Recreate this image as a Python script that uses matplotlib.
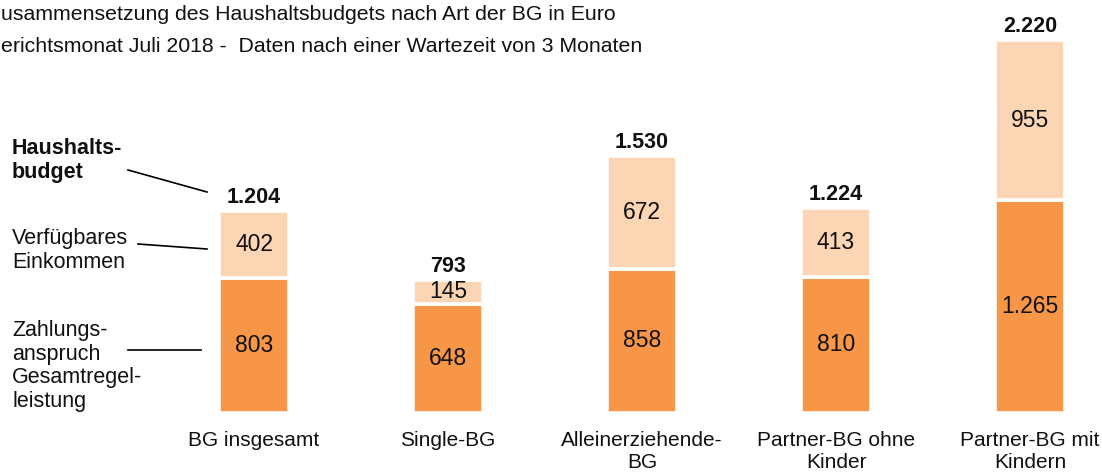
import matplotlib
matplotlib.use("Agg")
import matplotlib.pyplot as plt

plt.rcParams['font.family'] = ['Liberation Sans', 'DejaVu Sans']

categories = ["BG insgesamt", "Single-BG", "Alleinerziehende-\nBG",
              "Partner-BG ohne\nKinder", "Partner-BG mit\nKindern"]
zahlungsanspruch = [803, 648, 858, 810, 1265]
verfuegbar = [402, 145, 672, 413, 955]
totals = [1204, 793, 1530, 1224, 2220]
title_lines = ["usammensetzung des Haushaltsbudgets nach Art der BG in Euro",
               "erichtsmonat Juli 2018 -  Daten nach einer Wartezeit von 3 Monaten"]

def fmt(v):
    return f"{v:,}".replace(",", ".")

W, H = 1102, 473
fig = plt.figure(figsize=(W / 100, H / 100), dpi=100)
bottom_px = 413
ax = fig.add_axes([0, (H - bottom_px) / H, 1, bottom_px / H])
ax.set_axis_off()

x0_px, step_px = 254, 194
ax.set_xlim(-x0_px / step_px, (W - x0_px) / step_px)
ppu = 373 / 2220
ax.set_ylim(0, bottom_px / ppu)

dark = "#F79646"
light = "#FCD5B4"
xs = list(range(len(categories)))
bw = 0.362
ax.bar(xs, zahlungsanspruch, width=bw, color=dark, edgecolor="white", linewidth=2.6)
ax.bar(xs, verfuegbar, bottom=zahlungsanspruch, width=bw, color=light,
       edgecolor="white", linewidth=2.6)

txt = "#111111"
for x, z, v, t in zip(xs, zahlungsanspruch, verfuegbar, totals):
    ax.text(x, z / 2, fmt(z), ha="center", va="center", fontsize=16.5, color=txt)
    ax.text(x, z + v / 2, fmt(v), ha="center", va="center", fontsize=16.5, color=txt)
    ax.text(x, z + v + 8 / ppu, fmt(t), ha="center", va="baseline", fontsize=15.5,
            fontweight="bold", color=txt)

for x, c in zip(xs, categories):
    fig.text((x0_px + step_px * x) / W, 1 - 431 / H, c, ha="center", va="top",
             fontsize=15, linespacing=1.2, color=txt)

fig.text(1 / W, 1 - 14 / H, title_lines[0], ha="left", va="center", fontsize=15.3, color=txt)
fig.text(1 / W, 1 - 46 / H, title_lines[1], ha="left", va="center", fontsize=15.3, color=txt)

# Left annotations
fig.text(12 / W, 1 - 138 / H, "Haushalts-\nbudget", ha="left", va="top",
         fontsize=15.5, fontweight="bold", linespacing=1.2, color=txt)
fig.text(12 / W, 1 - 228 / H, "Verfügbares\nEinkommen", ha="left", va="top",
         fontsize=15.5, linespacing=1.2, color=txt)
fig.text(12 / W, 1 - 320 / H, "Zahlungs-\nanspruch\nGesamtregel-\nleistung", ha="left", va="top",
         fontsize=15.5, linespacing=1.17, color=txt)

def fline(p1, p2):
    fig.add_artist(plt.Line2D([p1[0] / W, p2[0] / W], [1 - p1[1] / H, 1 - p2[1] / H],
                              color="black", linewidth=1.2))

fline((128, 170), (207, 192))
fline((138, 244), (207, 249))
fline((128, 350), (201, 350))

fig.savefig("out.png", dpi=100)
